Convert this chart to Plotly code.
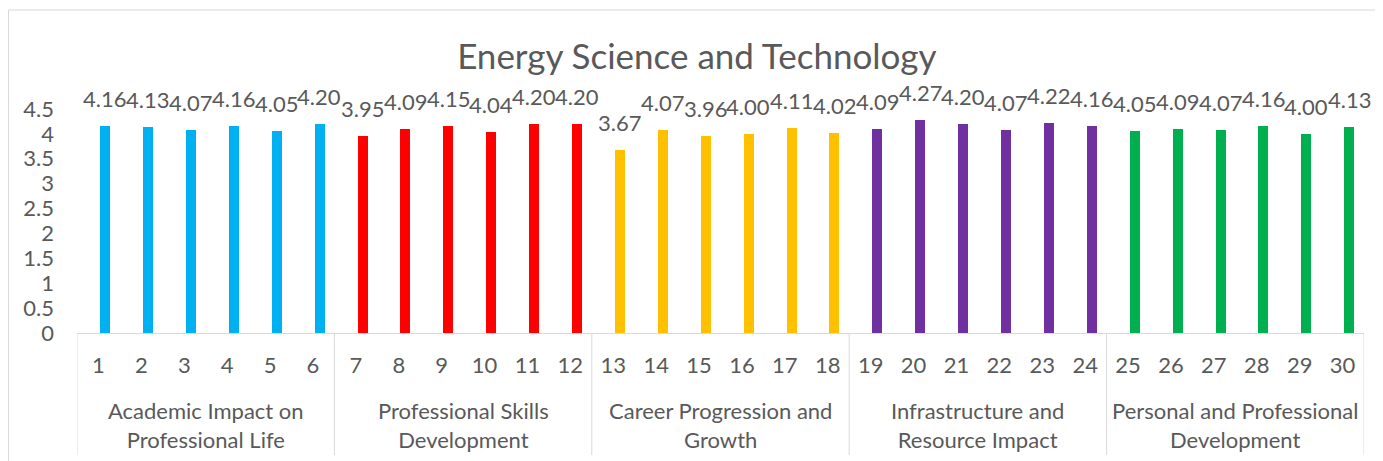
import plotly.graph_objects as go

# data
title = "Energy Science and Technology"
categories = [str(i) for i in range(1, 31)]
groups = ["Academic Impact on<br>Professional Life",
          "Professional Skills<br>Development",
          "Career Progression and<br>Growth",
          "Infrastructure and<br>Resource Impact",
          "Personal and Professional<br>Development"]
group_sizes = [6, 6, 6, 6, 6]
group_colors = ["#00B0F0", "#FF0000", "#FFC000", "#7030A0", "#00B050"]
values = [4.16, 4.13, 4.07, 4.16, 4.05, 4.20,
          3.95, 4.09, 4.15, 4.04, 4.20, 4.20,
          3.67, 4.07, 3.96, 4.00, 4.11, 4.02,
          4.09, 4.27, 4.20, 4.07, 4.22, 4.16,
          4.05, 4.09, 4.07, 4.16, 4.00, 4.13]

txt = "#595959"
axc = "#D9D9D9"
fnt = "Lato"
fs = 22

bar_colors = []
for g, n in enumerate(group_sizes):
    bar_colors += [group_colors[g]] * n

fig = go.Figure()
fig.add_trace(go.Bar(x=categories, y=values, marker=dict(color=bar_colors, line=dict(width=0)),
                     width=0.233, offset=0.04, showlegend=False, hoverinfo="x+y"))

# data labels
annotations = []
for i, v in enumerate(values):
    annotations.append(dict(x=i, y=v, xref="x", yref="y", text="%.2f" % v, showarrow=False,
                            xanchor="center", yanchor="bottom", xshift=6.5, yshift=12,
                            font=dict(family=fnt, size=fs, color=txt)))

# group labels and dividers
shapes = []
start = 0
bounds = [-0.5]
for g, n in enumerate(group_sizes):
    mid = start + (n - 1) / 2
    annotations.append(dict(x=mid, y=-0.41, xref="x", yref="paper", text=groups[g], showarrow=False,
                            xanchor="center", yanchor="middle",
                            font=dict(family=fnt, size=fs, color=txt)))
    start += n
    bounds.append(start - 0.5)
for b in bounds:
    shapes.append(dict(type="line", xref="x", yref="paper", x0=b, x1=b, y0=0, y1=-0.545,
                       line=dict(color=axc, width=1)))

# chart border
shapes.append(dict(type="rect", xref="paper", yref="paper", x0=-0.0532, x1=1.03, y0=-0.7, y1=1.442,
                   line=dict(color=axc, width=1), layer="below"))

fig.update_layout(
    width=1375, height=453,
    margin=dict(l=69, r=19, t=101, b=128),
    paper_bgcolor="white", plot_bgcolor="white",
    title=dict(text=title, x=0.501, xanchor="center", y=0.892, yanchor="middle",
               font=dict(family=fnt, size=35, color=txt)),
    font=dict(family=fnt, color=txt),
    bargap=0,
    annotations=annotations,
    shapes=shapes,
)
fig.update_xaxes(type="category", categoryorder="array", categoryarray=categories,
                 range=[-0.5, 29.5], showline=True, linecolor=axc, linewidth=1,
                 showgrid=False, zeroline=False, ticks="", ticklabelstandoff=13,
                 tickfont=dict(family=fnt, size=fs, color=txt))
fig.update_yaxes(range=[0, 4.5], dtick=0.5, showgrid=False, zeroline=False, showline=False,
                 ticks="", ticklabelstandoff=22,
                 tickfont=dict(family=fnt, size=fs, color=txt))

fig.write_html("out.html")
